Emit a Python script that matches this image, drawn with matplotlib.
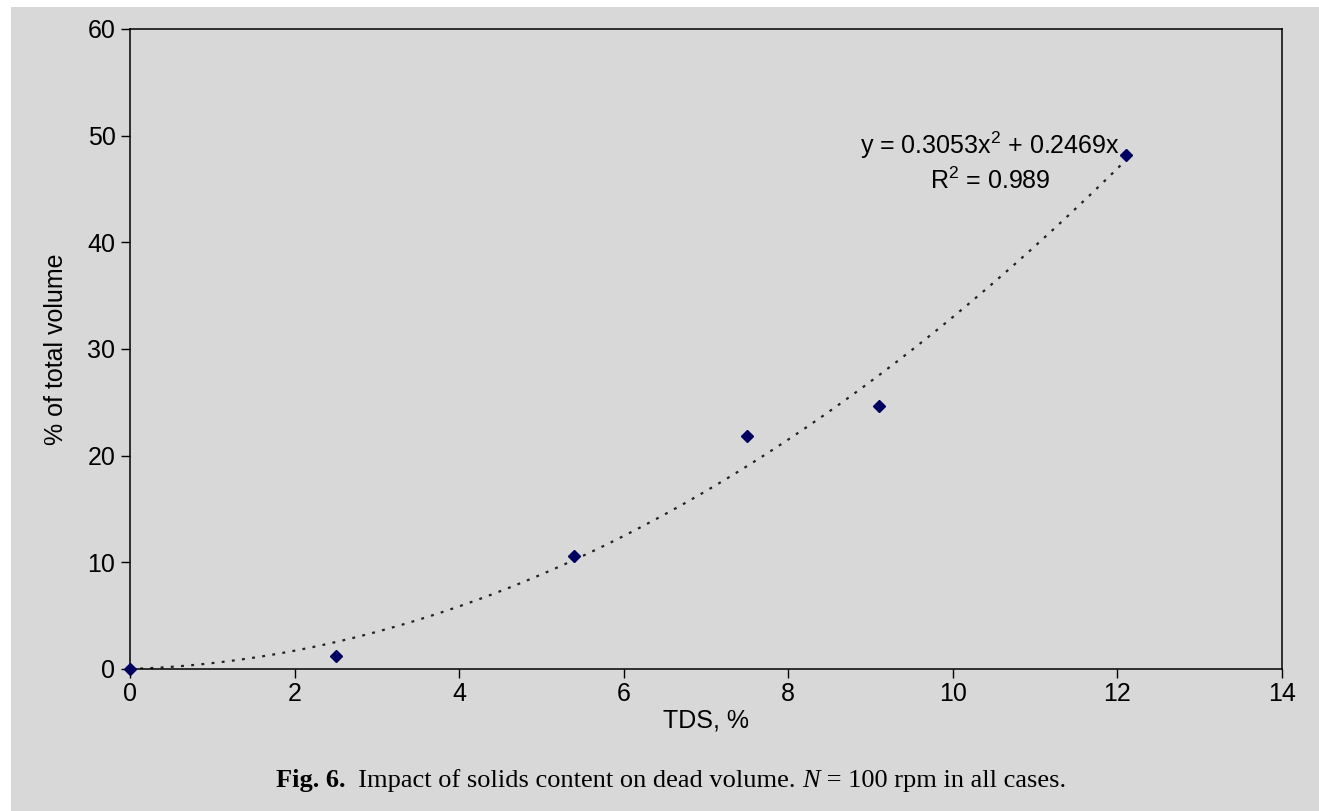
import numpy as np
import matplotlib
matplotlib.use("Agg")
import matplotlib.pyplot as plt
import matplotlib.patches as patches

plt.rcParams['font.family'] = ['Liberation Sans', 'DejaVu Sans']
plt.rcParams['mathtext.fontset'] = 'custom'
plt.rcParams['mathtext.rm'] = 'Liberation Sans'

# measured points (TDS %, % of total volume)
tds = [0.0, 2.5, 5.4, 7.5, 9.1, 12.1]
dead_vol = [0.0, 1.2, 10.6, 21.8, 24.7, 48.2]

# polynomial trendline coefficients shown on the chart
coef_a = 0.3053
coef_b = 0.2469
r2 = 0.989

bg = '#d8d8d8'
fs = 18

fig = plt.figure(figsize=(13.19, 8.11), dpi=100)
fig.patch.set_facecolor('white')
# grey page area (white strip on top/left like the scan)
fig.add_artist(patches.Rectangle((11 / 1319, 0), 1, 1 - 7 / 811,
                                 transform=fig.transFigure,
                                 facecolor=bg, edgecolor='none', zorder=-10))

ax = fig.add_axes([130 / 1319, (811 - 669) / 811,
                   (1282 - 130) / 1319, (669 - 29) / 811])
ax.set_facecolor(bg)

xfit = np.linspace(0, max(tds), 200)
yfit = coef_a * xfit ** 2 + coef_b * xfit
ax.plot(xfit, yfit, color='#222222', lw=1.6, linestyle=(0, (1.3, 3.3)),
        dash_capstyle='butt', zorder=2)
ax.plot(tds, dead_vol, linestyle='none', marker='D', markersize=5.8,
        color='#000060', markeredgecolor='#000060', clip_on=False, zorder=3)

ax.set_xlim(0, 14)
ax.set_ylim(0, 60)
ax.set_xticks(np.arange(0, 15, 2))
ax.set_yticks(np.arange(0, 61, 10))

for s in ax.spines.values():
    s.set_linewidth(1.1)
    s.set_color('black')
ax.tick_params(axis='both', direction='out', length=6.5, width=1.0,
               labelsize=fs, colors='black', pad=3)
ax.tick_params(axis='y', pad=4)

ax.set_xlabel('TDS, %', fontsize=fs, labelpad=2)
ax.set_ylabel('% of total volume', fontsize=fs, labelpad=14)

ax.text(10.45, 47.6, 'y = %.4fx$^{2}$ + %.4fx' % (coef_a, coef_b),
        ha='center', va='bottom', fontsize=fs)
ax.text(10.45, 47.0, 'R$^{2}$ = %.3f' % r2,
        ha='center', va='top', fontsize=fs)

# caption: bold "Fig. 6.", regular text, italic N
cap_y = (811 - 781) / 811
cap_fs = 19
serif = ['Liberation Serif', 'DejaVu Serif']
pieces = [('Fig. 6.', 'bold', 'normal'),
          ('  Impact of solids content on dead volume. ', 'normal', 'normal'),
          ('N', 'normal', 'italic'),
          (' = 100 rpm in all cases.', 'normal', 'normal')]
renderer = fig.canvas.get_renderer()
texts = []
for txt, wt, st in pieces:
    t = fig.text(0, cap_y, txt, fontsize=cap_fs, family=serif,
                 weight=wt, style=st, ha='left', va='center')
    texts.append(t)
widths = [t.get_window_extent(renderer).width for t in texts]
x = 671 - sum(widths) / 2
for t, w in zip(texts, widths):
    t.set_x(x / 1319)
    x += w

fig.savefig('out.png', dpi=100, facecolor=fig.get_facecolor())
